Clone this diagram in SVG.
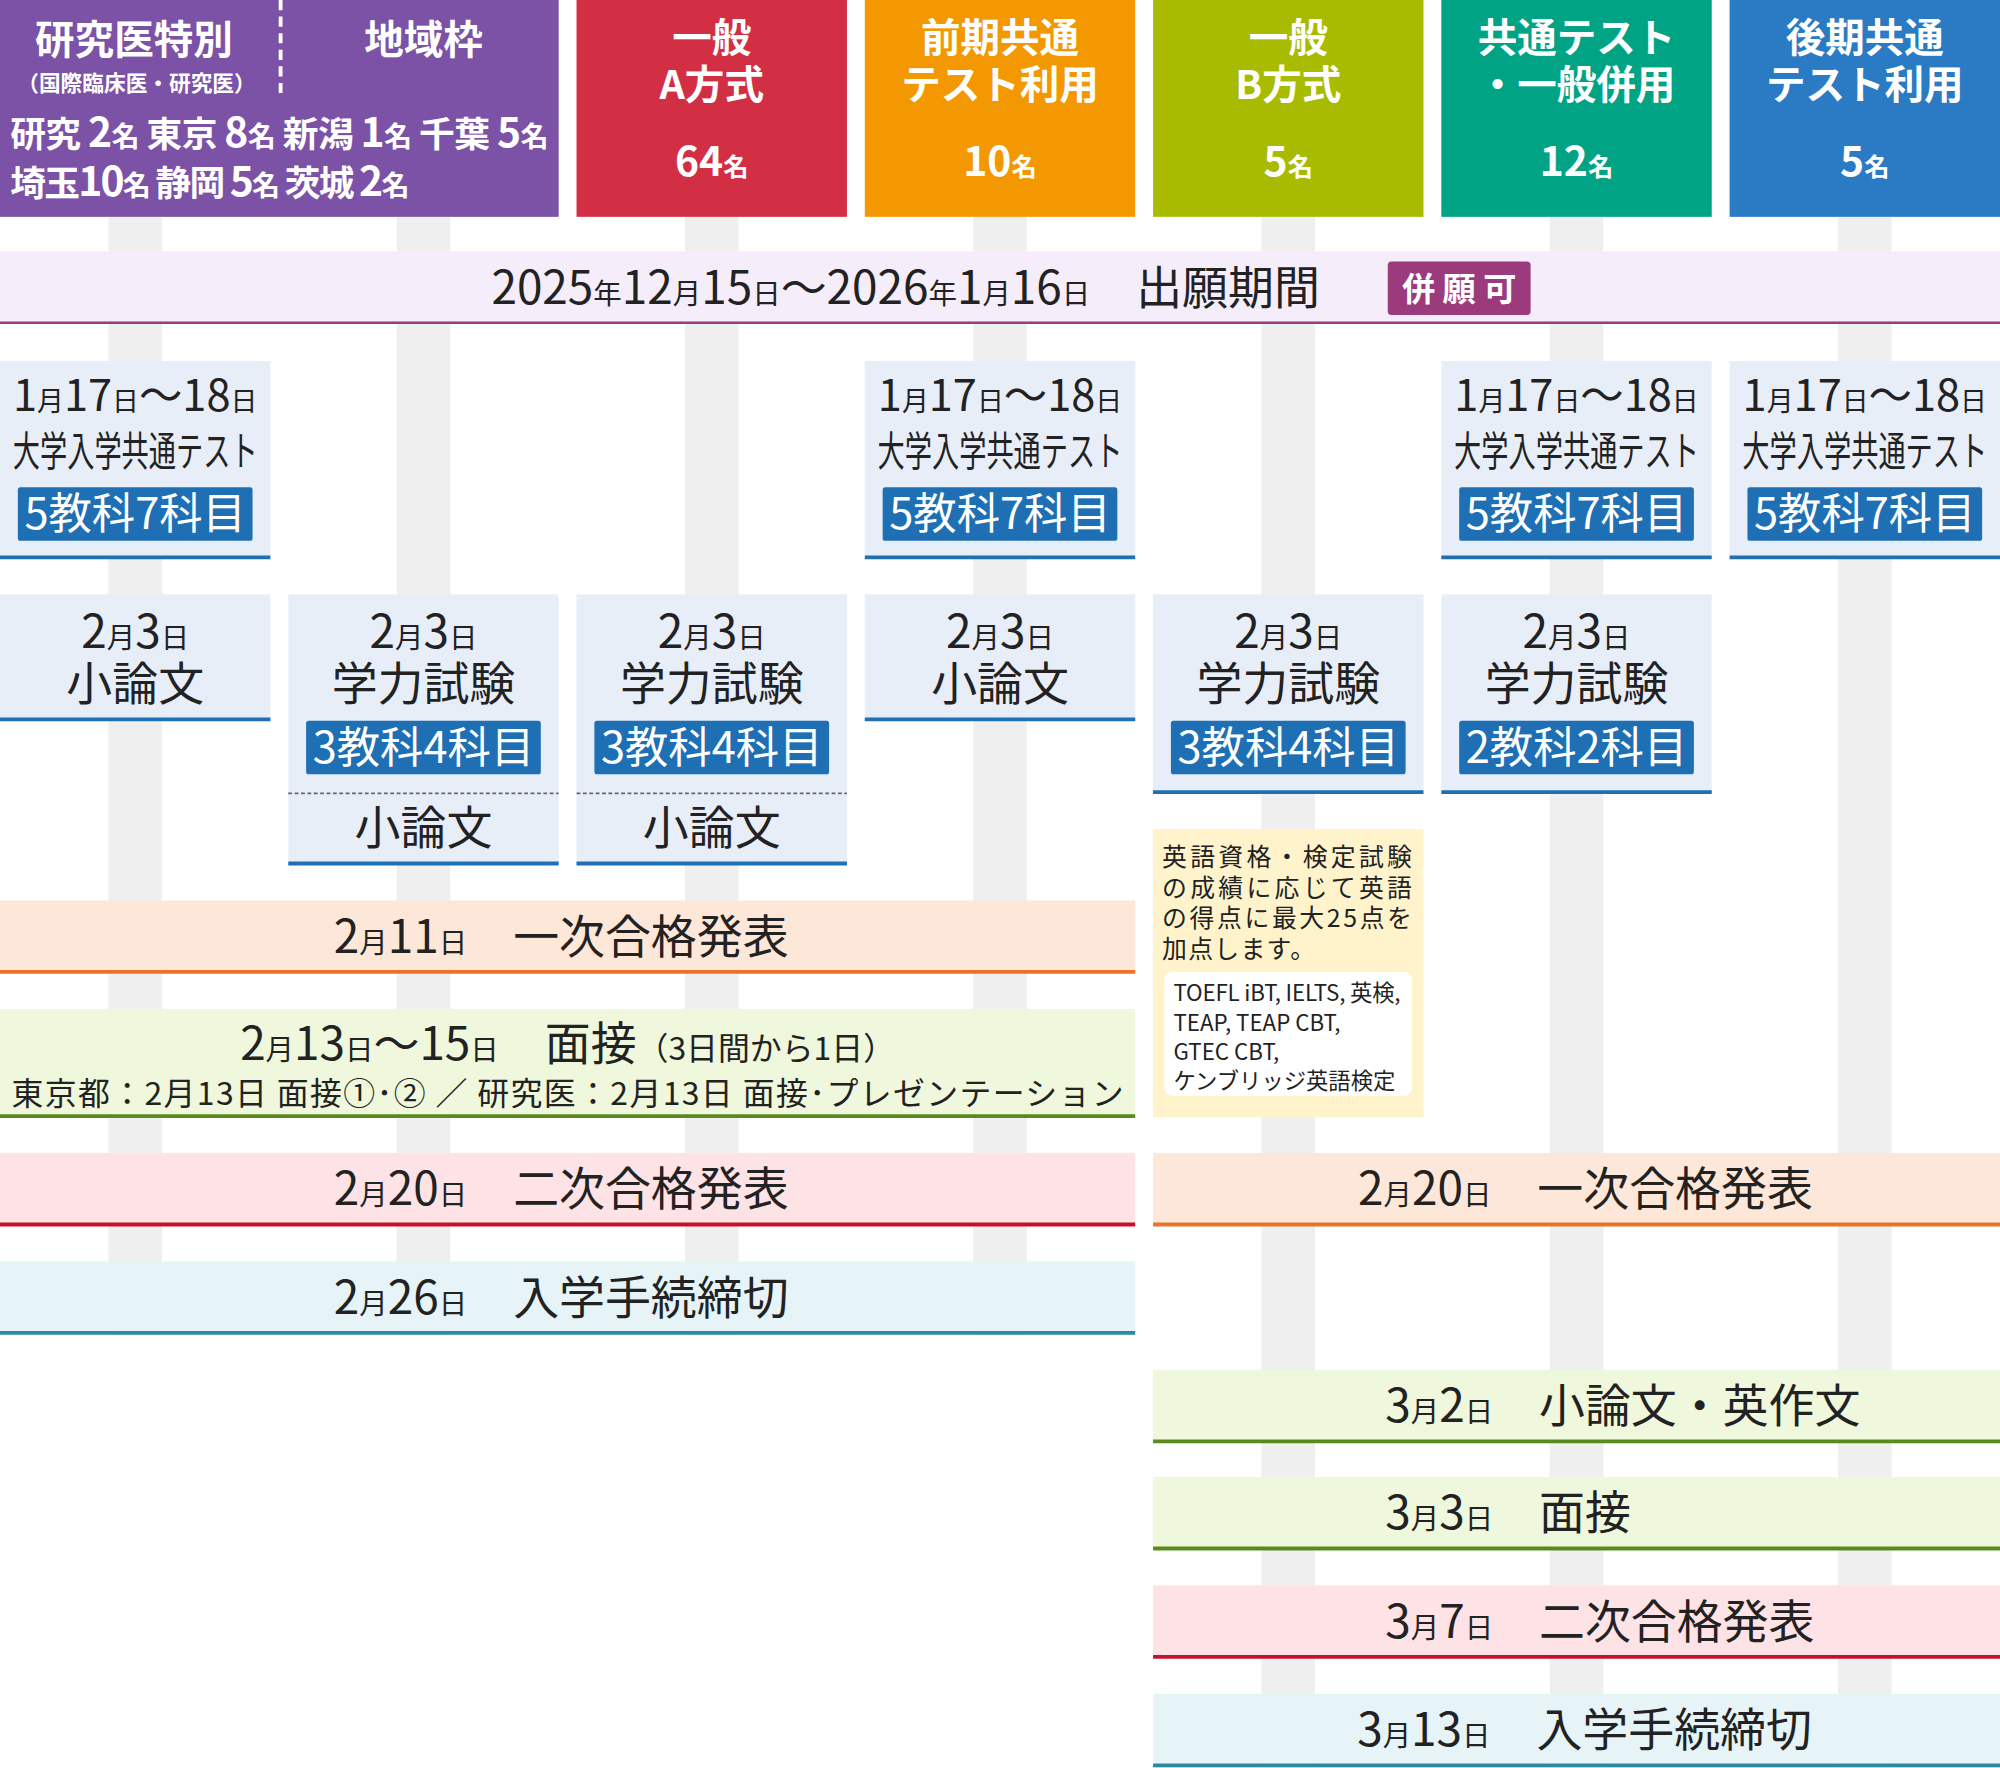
<svg xmlns="http://www.w3.org/2000/svg" width="2000" height="1768" viewBox="0 0 2000 1768">
<style>
text{font-family:"Noto Sans CJK JP","Noto Sans",sans-serif;text-anchor:middle}
.h{fill:#fff;font-weight:bold;font-size:31px}
.hn{fill:#fff;font-weight:bold;font-size:32px}
.s{font-size:0.62em}
.t{fill:#222;font-size:34px}
.ct{fill:#222;font-size:32px}
.tb{fill:#222;font-size:36px}
.box{fill:#e8eef8}
.bl{stroke:#1f6fb5;stroke-width:3}
.badge{fill:#1f6fb5}
.bt{fill:#fff;font-size:34px}
.bar{fill:#efefef}
</style>
<rect width="2000" height="1768" fill="#fff"/>
<g transform="scale(1.27551)">
<g id="bars">
<rect class="bar" x="85" y="170" width="42" height="876"/>
<rect class="bar" x="311" y="170" width="42" height="876"/>
<rect class="bar" x="537" y="170" width="42" height="876"/>
<rect class="bar" x="763" y="170" width="42" height="876"/>
<rect class="bar" x="989" y="170" width="42" height="1216"/>
<rect class="bar" x="1215" y="170" width="42" height="1216"/>
<rect class="bar" x="1441" y="170" width="42" height="1216"/>
</g>
<g id="headers">
<rect x="0" y="0" width="438" height="170" fill="#7b52a5"/>
<line x1="220" y1="0" x2="220" y2="76" stroke="#fff" stroke-width="3" stroke-dasharray="8,5"/>
<text class="h" x="105" y="42">研究医特別</text>
<text x="107" y="71" fill="#fff" font-weight="bold" font-size="17">（国際臨床医・研究医）</text>
<text class="h" x="332" y="42">地域枠</text>
<text x="8" y="115" fill="#fff" font-weight="bold" font-size="28" style="text-anchor:start" textLength="422">研究  <tspan font-size="32">2</tspan><tspan font-size="22">名</tspan> 東京  <tspan font-size="32">8</tspan><tspan font-size="22">名</tspan> 新潟  <tspan font-size="32">1</tspan><tspan font-size="22">名</tspan> 千葉  <tspan font-size="32">5</tspan><tspan font-size="22">名</tspan></text>
<text x="8" y="154" fill="#fff" font-weight="bold" font-size="28" style="text-anchor:start" textLength="313">埼玉<tspan font-size="32">10</tspan><tspan font-size="22">名</tspan> 静岡  <tspan font-size="32">5</tspan><tspan font-size="22">名</tspan> 茨城  <tspan font-size="32">2</tspan><tspan font-size="22">名</tspan></text>
<rect x="452" y="0" width="212" height="170" fill="#d22f45"/>
<text class="h" x="558" y="41">一般</text><text class="h" x="558" y="78">A方式</text>
<text class="hn" x="558" y="138">64<tspan class="s">名</tspan></text>
<rect x="678" y="0" width="212" height="170" fill="#f39800"/>
<text class="h" x="784" y="41">前期共通</text><text class="h" x="784" y="78">テスト利用</text>
<text class="hn" x="784" y="138">10<tspan class="s">名</tspan></text>
<rect x="904" y="0" width="212" height="170" fill="#a8bb00"/>
<text class="h" x="1010" y="41">一般</text><text class="h" x="1010" y="78">B方式</text>
<text class="hn" x="1010" y="138">5<tspan class="s">名</tspan></text>
<rect x="1130" y="0" width="212" height="170" fill="#00a384"/>
<text class="h" x="1236" y="41">共通テスト</text><text class="h" x="1236" y="78">・一般併用</text>
<text class="hn" x="1236" y="138">12<tspan class="s">名</tspan></text>
<rect x="1356" y="0" width="212" height="170" fill="#2a7bc4"/>
<text class="h" x="1462" y="41">後期共通</text><text class="h" x="1462" y="78">テスト利用</text>
<text class="hn" x="1462" y="138">5<tspan class="s">名</tspan></text>
</g>
<g id="application">
<rect x="0" y="197" width="1568" height="57" fill="#f5eefa"/>
<line x1="0" y1="253" x2="1568" y2="253" stroke="#9b3a7d" stroke-width="2"/>
<text class="tb" x="710" y="238">2025<tspan class="s">年</tspan>12<tspan class="s">月</tspan>15<tspan class="s">日</tspan>〜2026<tspan class="s">年</tspan>1<tspan class="s">月</tspan>16<tspan class="s">日</tspan>　出願期間</text>
<rect x="1088" y="205" width="112" height="42" rx="3" fill="#9b3a7d"/>
<text x="1144" y="236" fill="#fff" font-weight="bold" font-size="26">併 願 可</text>
</g>
<g id="common-tests">
<g id="ct0"><rect class="box" x="0" y="283" width="212" height="155"/><line class="bl" x1="0" y1="437" x2="212" y2="437"/>
<text class="t" x="106" y="322">1<tspan class="s">月</tspan>17<tspan class="s">日</tspan>〜18<tspan class="s">日</tspan></text><text class="ct" x="106" y="365" textLength="192" lengthAdjust="spacingAndGlyphs">大学入学共通テスト</text>
<rect class="badge" x="14" y="382" width="184" height="42" rx="2"/><text class="bt" x="106" y="415">5教科7科目</text></g>
<g id="ct3"><rect class="box" x="678" y="283" width="212" height="155"/><line class="bl" x1="678" y1="437" x2="890" y2="437"/>
<text class="t" x="784" y="322">1<tspan class="s">月</tspan>17<tspan class="s">日</tspan>〜18<tspan class="s">日</tspan></text><text class="ct" x="784" y="365" textLength="192" lengthAdjust="spacingAndGlyphs">大学入学共通テスト</text>
<rect class="badge" x="692" y="382" width="184" height="42" rx="2"/><text class="bt" x="784" y="415">5教科7科目</text></g>
<g id="ct5"><rect class="box" x="1130" y="283" width="212" height="155"/><line class="bl" x1="1130" y1="437" x2="1342" y2="437"/>
<text class="t" x="1236" y="322">1<tspan class="s">月</tspan>17<tspan class="s">日</tspan>〜18<tspan class="s">日</tspan></text><text class="ct" x="1236" y="365" textLength="192" lengthAdjust="spacingAndGlyphs">大学入学共通テスト</text>
<rect class="badge" x="1144" y="382" width="184" height="42" rx="2"/><text class="bt" x="1236" y="415">5教科7科目</text></g>
<g id="ct6"><rect class="box" x="1356" y="283" width="212" height="155"/><line class="bl" x1="1356" y1="437" x2="1568" y2="437"/>
<text class="t" x="1462" y="322">1<tspan class="s">月</tspan>17<tspan class="s">日</tspan>〜18<tspan class="s">日</tspan></text><text class="ct" x="1462" y="365" textLength="192" lengthAdjust="spacingAndGlyphs">大学入学共通テスト</text>
<rect class="badge" x="1370" y="382" width="184" height="42" rx="2"/><text class="bt" x="1462" y="415">5教科7科目</text></g>
</g>
<g id="exams">
<g id="ex0"><rect class="box" x="0" y="466" width="212" height="99"/><line class="bl" x1="0" y1="564" x2="212" y2="564"/>
<text class="tb" x="106" y="508">2<tspan class="s">月</tspan>3<tspan class="s">日</tspan></text><text class="tb" x="106" y="549">小論文</text></g>
<g id="ex1"><rect class="box" x="226" y="466" width="212" height="212"/><line class="bl" x1="226" y1="677" x2="438" y2="677"/>
<text class="tb" x="332" y="508">2<tspan class="s">月</tspan>3<tspan class="s">日</tspan></text><text class="tb" x="332" y="549">学力試験</text>
<rect class="badge" x="240" y="565" width="184" height="42" rx="2"/><text class="bt" x="332" y="598">3教科4科目</text>
<line x1="226" y1="622" x2="438" y2="622" stroke="#666" stroke-width="1.5" stroke-dasharray="3,2"/>
<text class="tb" x="332" y="662">小論文</text></g>
<g id="ex2"><rect class="box" x="452" y="466" width="212" height="212"/><line class="bl" x1="452" y1="677" x2="664" y2="677"/>
<text class="tb" x="558" y="508">2<tspan class="s">月</tspan>3<tspan class="s">日</tspan></text><text class="tb" x="558" y="549">学力試験</text>
<rect class="badge" x="466" y="565" width="184" height="42" rx="2"/><text class="bt" x="558" y="598">3教科4科目</text>
<line x1="452" y1="622" x2="664" y2="622" stroke="#666" stroke-width="1.5" stroke-dasharray="3,2"/>
<text class="tb" x="558" y="662">小論文</text></g>
<g id="ex3"><rect class="box" x="678" y="466" width="212" height="99"/><line class="bl" x1="678" y1="564" x2="890" y2="564"/>
<text class="tb" x="784" y="508">2<tspan class="s">月</tspan>3<tspan class="s">日</tspan></text><text class="tb" x="784" y="549">小論文</text></g>
<g id="ex4"><rect class="box" x="904" y="466" width="212" height="156"/><line class="bl" x1="904" y1="621" x2="1116" y2="621"/>
<text class="tb" x="1010" y="508">2<tspan class="s">月</tspan>3<tspan class="s">日</tspan></text><text class="tb" x="1010" y="549">学力試験</text>
<rect class="badge" x="918" y="565" width="184" height="42" rx="2"/><text class="bt" x="1010" y="598">3教科4科目</text></g>
<g id="ex5"><rect class="box" x="1130" y="466" width="212" height="156"/><line class="bl" x1="1130" y1="621" x2="1342" y2="621"/>
<text class="tb" x="1236" y="508">2<tspan class="s">月</tspan>3<tspan class="s">日</tspan></text><text class="tb" x="1236" y="549">学力試験</text>
<rect class="badge" x="1144" y="565" width="184" height="42" rx="2"/><text class="bt" x="1236" y="598">2教科2科目</text></g>
</g>
<g id="note">
<rect x="904" y="650" width="212" height="226" fill="#fff3cc"/>
<g font-size="19.5" fill="#222">
<text x="911" y="679" style="text-anchor:start" textLength="196">英語資格・検定試験</text>
<text x="911" y="703" style="text-anchor:start" textLength="196">の成績に応じて英語</text>
<text x="911" y="727" style="text-anchor:start" textLength="196">の得点に最大25点を</text>
<text x="911" y="751" style="text-anchor:start" textLength="120">加点します。</text>
</g>
<rect x="913" y="762" width="194" height="97" rx="6" fill="#fff"/>
<g font-size="17.5" fill="#222">
<text x="920" y="785" style="text-anchor:start" textLength="178">TOEFL iBT, IELTS, 英検,</text>
<text x="920" y="808" style="text-anchor:start">TEAP, TEAP CBT,</text>
<text x="920" y="831" style="text-anchor:start">GTEC CBT,</text>
<text x="920" y="854" style="text-anchor:start">ケンブリッジ英語検定</text>
</g>
</g>
<g id="events">
<g><rect x="0" y="706" width="890" height="57" fill="#fde7d8"/><line x1="0" y1="762" x2="890" y2="762" stroke="#e8742a" stroke-width="3"/>
<text class="tb" x="440" y="747">2<tspan class="s">月</tspan>11<tspan class="s">日</tspan>　一次合格発表</text></g>
<g><rect x="0" y="791" width="890" height="85" fill="#eff8dc"/><line x1="0" y1="875" x2="890" y2="875" stroke="#5a8a1e" stroke-width="3"/>
<text class="tb" x="445" y="831">2<tspan class="s">月</tspan>13<tspan class="s">日</tspan>〜15<tspan class="s">日</tspan>　面接<tspan font-size="25">（3日間から1日）</tspan></text>
<text x="445" y="866" fill="#222" font-size="25" textLength="872">東京都：2月13日 面接①･② ／ 研究医：2月13日 面接･プレゼンテーション</text></g>
<g><rect x="0" y="904" width="890" height="57" fill="#fde3e5"/><line x1="0" y1="960" x2="890" y2="960" stroke="#c8102e" stroke-width="3"/>
<text class="tb" x="440" y="945">2<tspan class="s">月</tspan>20<tspan class="s">日</tspan>　二次合格発表</text></g>
<g><rect x="0" y="989" width="890" height="57" fill="#e6f3f7"/><line x1="0" y1="1045" x2="890" y2="1045" stroke="#2a8aa3" stroke-width="3"/>
<text class="tb" x="440" y="1030">2<tspan class="s">月</tspan>26<tspan class="s">日</tspan>　入学手続締切</text></g>
<g><rect x="904" y="904" width="664" height="57" fill="#fde7d8"/><line x1="904" y1="960" x2="1568" y2="960" stroke="#e8742a" stroke-width="3"/>
<text class="tb" x="1243" y="945">2<tspan class="s">月</tspan>20<tspan class="s">日</tspan>　一次合格発表</text></g>
<g><rect x="904" y="1074" width="664" height="57" fill="#eff8dc"/><line x1="904" y1="1130" x2="1568" y2="1130" stroke="#5a8a1e" stroke-width="3"/>
<text class="tb" x="1086" y="1115" style="text-anchor:start">3<tspan class="s">月</tspan>2<tspan class="s">日</tspan>　小論文・英作文</text></g>
<g><rect x="904" y="1158" width="664" height="57" fill="#eff8dc"/><line x1="904" y1="1214" x2="1568" y2="1214" stroke="#5a8a1e" stroke-width="3"/>
<text class="tb" x="1086" y="1199" style="text-anchor:start">3<tspan class="s">月</tspan>3<tspan class="s">日</tspan>　面接</text></g>
<g><rect x="904" y="1243" width="664" height="57" fill="#fde3e5"/><line x1="904" y1="1299" x2="1568" y2="1299" stroke="#c8102e" stroke-width="3"/>
<text class="tb" x="1086" y="1284" style="text-anchor:start">3<tspan class="s">月</tspan>7<tspan class="s">日</tspan>　二次合格発表</text></g>
<g><rect x="904" y="1328" width="664" height="58" fill="#e6f3f7"/><line x1="904" y1="1384" x2="1568" y2="1384" stroke="#2a8aa3" stroke-width="3"/>
<text class="tb" x="1064" y="1369" style="text-anchor:start">3<tspan class="s">月</tspan>13<tspan class="s">日</tspan>　入学手続締切</text></g>
</g>
</g>
</svg>
